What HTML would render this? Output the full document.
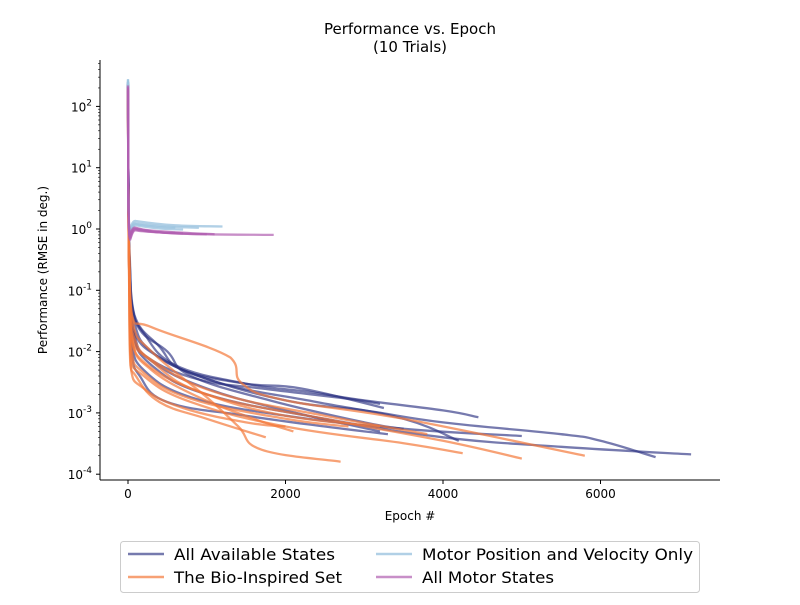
<!DOCTYPE html>
<html><head><meta charset="utf-8"><style>
body{margin:0;background:#fff;font-family:"Liberation Sans","DejaVu Sans",sans-serif;}
svg text{font-family:"DejaVu Sans","Liberation Sans",sans-serif;}
</style></head><body>
<svg id="c" width="800" height="600" viewBox="0 0 800 600" xmlns="http://www.w3.org/2000/svg">
<rect width="800" height="600" fill="#fff"/>
<text x="410" y="34" text-anchor="middle" font-size="15">Performance vs. Epoch</text>
<text x="410" y="52" text-anchor="middle" font-size="15">(10 Trials)</text>
<g id="plot"></g>
<g id="axes"></g>
<text x="410" y="520" text-anchor="middle" font-size="12">Epoch #</text>
<text transform="translate(47,270) rotate(-90)" text-anchor="middle" font-size="12">Performance (RMSE in deg.)</text>
<g>
<rect x="120.5" y="541.5" width="579" height="51" rx="3" fill="#fff" stroke="#ccc"/>
<g><line x1="128" y1="554" x2="164" y2="554" stroke="#2c3283" stroke-opacity="0.65" stroke-width="2.5"/><text x="174" y="560" font-size="16" textLength="161" lengthAdjust="spacingAndGlyphs">All Available States</text></g>
<g><line x1="128" y1="577" x2="164" y2="577" stroke="#f4793b" stroke-opacity="0.7" stroke-width="2.5"/><text x="174" y="583" font-size="16" textLength="168" lengthAdjust="spacingAndGlyphs">The Bio-Inspired Set</text></g>
<g><line x1="376" y1="554" x2="412" y2="554" stroke="#9ec4e0" stroke-opacity="0.8" stroke-width="2.5"/><text x="422" y="560" font-size="16" textLength="271" lengthAdjust="spacingAndGlyphs">Motor Position and Velocity Only</text></g>
<g><line x1="376" y1="577" x2="412" y2="577" stroke="#b060b0" stroke-opacity="0.7" stroke-width="2.5"/><text x="422" y="583" font-size="16" textLength="132" lengthAdjust="spacingAndGlyphs">All Motor States</text></g>
</g>
</svg>
<script>
const xTicks=[0,2000,4000,6000];
const yTickExps=[-4,-3,-2,-1,0,1,2];
const allAvailable=[
[[0,250],[8,2],[20,0.3],[60,0.05],[200,0.02],[600,0.006],[1500,0.003],[2300,0.0022],[3000,0.0016],[4000,0.0011],[4450,0.00085]],
[[0,230],[8,2],[20,0.2],[80,0.03],[300,0.01],[900,0.004],[2000,0.0016],[3000,0.0011],[4000,0.0007],[5500,0.00045],[6000,0.00035],[6700,0.00019]],
[[0,220],[8,2],[20,0.15],[60,0.02],[300,0.006],[1000,0.002],[2500,0.0008],[4000,0.0004],[5500,0.00028],[7150,0.00021]],
[[0,200],[8,2],[20,0.4],[80,0.04],[400,0.012],[700,0.005],[1500,0.003],[2200,0.0025],[3250,0.0012]],
[[0,210],[8,2],[20,0.1],[50,0.015],[200,0.005],[800,0.0018],[2000,0.0009],[3500,0.00055],[5000,0.00042]],
[[0,240],[8,2],[20,0.2],[60,0.025],[400,0.008],[1200,0.003],[2400,0.0015],[3500,0.0008],[4200,0.00035]],
[[0,200],[8,2],[20,0.3],[100,0.03],[500,0.01],[800,0.004],[1800,0.0016],[3000,0.0007],[3500,0.00055]],
[[0,230],[8,2],[20,0.12],[50,0.01],[150,0.004],[500,0.0015],[1500,0.0009],[2500,0.0006],[3300,0.00045]],
[[0,210],[8,2],[20,0.25],[80,0.02],[300,0.007],[1000,0.0025],[2000,0.0011],[3200,0.0005]],
[[0,220],[8,2],[20,0.18],[70,0.02],[250,0.008],[900,0.0035],[1700,0.0025],[2800,0.0017],[3200,0.0014]]
];
const bioInspired=[
[[0,200],[6,2],[15,0.5],[50,0.04],[300,0.025],[1300,0.008],[1450,0.003],[2000,0.0016],[3500,0.0008],[5800,0.0002]],
[[0,180],[6,2],[15,0.3],[40,0.02],[300,0.007],[1000,0.002],[2500,0.0008],[4000,0.00035],[5000,0.00018]],
[[0,190],[6,2],[15,0.2],[30,0.01],[200,0.004],[800,0.0015],[2000,0.0006],[3500,0.00032],[4250,0.00022]],
[[0,170],[6,2],[15,0.4],[60,0.03],[300,0.01],[1000,0.0018],[1400,0.0006],[1700,0.00025],[2700,0.00016]],
[[0,200],[6,2],[15,0.15],[30,0.008],[100,0.004],[400,0.0015],[1000,0.0008],[1750,0.0004]],
[[0,190],[6,2],[15,0.2],[50,0.015],[300,0.005],[900,0.0018],[1600,0.0008],[2100,0.0005]],
[[0,180],[6,2],[15,0.25],[40,0.02],[250,0.006],[1000,0.002],[2000,0.0009],[3200,0.0006]],
[[0,200],[6,2],[15,0.1],[30,0.006],[200,0.0025],[700,0.0012],[1500,0.0007],[2000,0.0006]],
[[0,170],[6,2],[15,0.3],[60,0.02],[400,0.006],[1200,0.002],[2500,0.0009],[3800,0.00045]],
[[0,190],[6,2],[15,0.2],[40,0.012],[200,0.0045],[800,0.0017],[2000,0.0008],[2800,0.0006]]
];
const motorPosVel=[
[[0,280],[10,1.5],[100,1.35],[600,1.15],[1200,1.1]],
[[0,260],[10,1.4],[100,1.25],[500,1.1],[900,1.05]],
[[0,250],[10,1.35],[100,1.2],[400,1.08],[600,1.05]],
[[0,270],[10,1.3],[100,1.15],[400,1.02],[700,0.98]]
];
const allMotor=[
[[0,220],[10,1.3],[100,1.05],[600,0.85],[1850,0.8]],
[[0,200],[10,1.2],[100,1.0],[500,0.86],[1000,0.82]],
[[0,190],[10,1.15],[100,0.98],[400,0.88],[700,0.85]],
[[0,210],[10,1.25],[100,1.02],[500,0.9],[1100,0.82]],
[[0,180],[10,1.1],[100,0.95],[400,0.88],[600,0.87]]
];
const X0=128, XS=0.07875, Y0=229, YS=61.3;
function xs(e){return X0+e*XS;}
function ys(v){return Y0-Math.log10(v)*YS;}
const NS='http://www.w3.org/2000/svg';
const plot=document.getElementById('plot');
function smoothPath(pts){
  let d='M'+pts[0][0].toFixed(1)+','+pts[0][1].toFixed(1);
  for(let i=0;i<pts.length-1;i++){
    const p0=pts[Math.max(0,i-1)],p1=pts[i],p2=pts[i+1],p3=pts[Math.min(pts.length-1,i+2)];
    const t=0.2;
    let c1x=p1[0]+(p2[0]-p0[0])*t,c1y=p1[1]+(p2[1]-p0[1])*t;
    let c2x=p2[0]-(p3[0]-p1[0])*t,c2y=p2[1]-(p3[1]-p1[1])*t;
    c1x=Math.max(Math.min(c1x,p2[0]),p1[0]);c2x=Math.max(Math.min(c2x,p2[0]),p1[0]);
    d+=' C'+c1x.toFixed(1)+','+c1y.toFixed(1)+' '+c2x.toFixed(1)+','+c2y.toFixed(1)+' '+p2[0].toFixed(1)+','+p2[1].toFixed(1);
  }
  return d;
}
function draw(set,color,op,name){
  set.forEach((curve,i)=>{
    const p=document.createElementNS(NS,'path');
    p.setAttribute('d',smoothPath(curve.map(d=>[xs(d[0]),ys(d[1])])));
    p.setAttribute('fill','none');p.setAttribute('stroke',color);p.setAttribute('stroke-opacity',op);
    p.setAttribute('stroke-width','2.3');p.setAttribute('stroke-linejoin','round');
    
    
    plot.appendChild(p);
  });
}
draw(allAvailable,'#2c3283','0.65','all-available-line');
draw(bioInspired,'#f4793b','0.7','bio-inspired-line');
draw(motorPosVel,'#9ec4e0','0.8','motor-pos-vel-line');
draw(allMotor,'#b060b0','0.7','all-motor-line');
const axes=document.getElementById('axes');
function el(tag,attrs,txt){const e=document.createElementNS(NS,tag);for(const k in attrs)e.setAttribute(k,attrs[k]);if(txt!==undefined)e.textContent=txt;axes.appendChild(e);return e;}
const la=el('line',{x1:100,y1:60,x2:100,y2:480,stroke:'#000','stroke-width':1});


const lb=el('line',{x1:100,y1:480,x2:720,y2:480,stroke:'#000','stroke-width':1});


xTicks.forEach(t=>{
  el('line',{x1:xs(t),y1:480,x2:xs(t),y2:484,stroke:'#000'});
  const tx=el('text',{x:xs(t),y:498,'text-anchor':'middle','font-size':12},String(t));
  
  
});
yTickExps.forEach(e=>{
  const y=ys(Math.pow(10,e));
  el('line',{x1:96,y1:y,x2:100,y2:y,stroke:'#000'});
  for(let m=2;m<10;m++){const yy=ys(m*Math.pow(10,e));if(yy>60)el('line',{x1:98,y1:yy,x2:100,y2:yy,stroke:'#000','stroke-width':0.6});}
  const tx=el('text',{x:92,y:y+5,'text-anchor':'end','font-size':12},'10');
  
  
  const s=document.createElementNS(NS,'tspan');s.setAttribute('dy','-6');s.setAttribute('font-size','9');s.textContent=String(e);tx.appendChild(s);
});
</script>
</body></html>
